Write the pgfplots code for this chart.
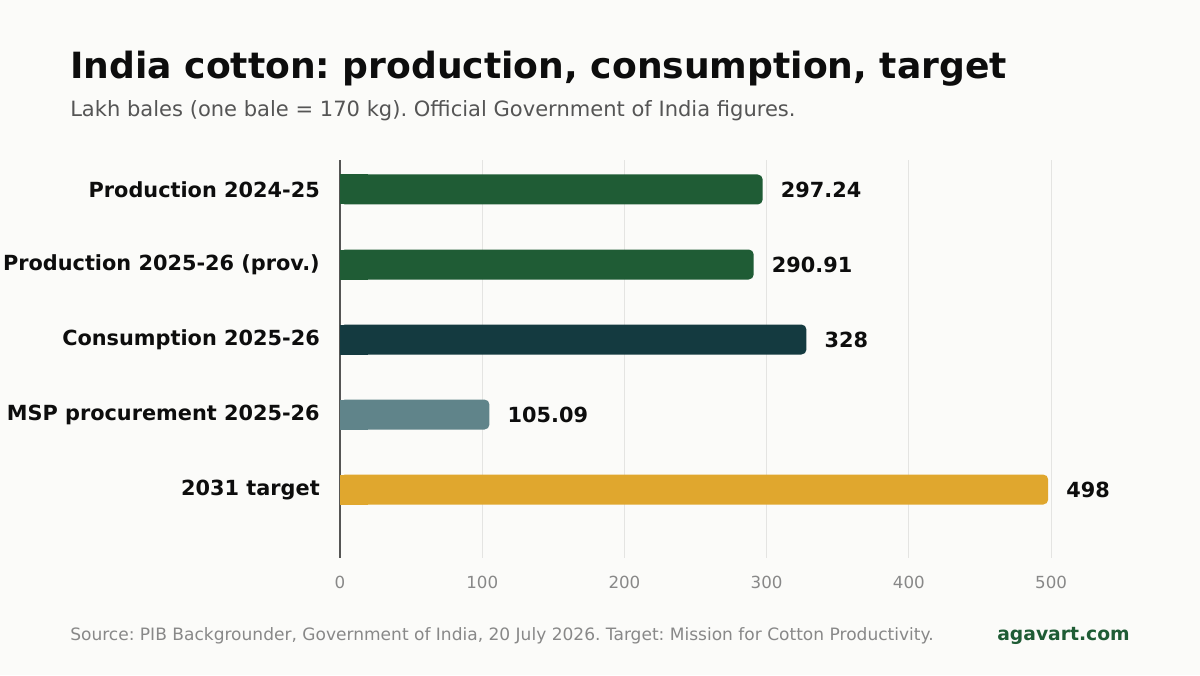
\documentclass[border=0pt]{standalone}
\usepackage{fontspec}
\setmainfont{DejaVu Sans}
\usepackage{pgfplots}
\pgfplotsset{compat=1.18}
\frenchspacing

\definecolor{bg}{HTML}{FBFBF9}
\definecolor{prod}{HTML}{1F5C35}
\definecolor{cons}{HTML}{143A40}
\definecolor{msp}{HTML}{60848A}
\definecolor{target}{HTML}{E0A72E}
\definecolor{ink}{HTML}{0D0D0D}
\definecolor{subgray}{HTML}{555555}
\definecolor{tickgray}{HTML}{888888}
\definecolor{gridgray}{HTML}{E4E4E2}

\newcommand{\fs}[1]{\fontsize{#1}{#1}\selectfont}

% square-ended stub that keeps the bar's left end flat at the axis
\pgfplotsset{stub/.style={fill=#1, rounded corners=0pt, nodes near coords={}, forget plot}}

\begin{document}
\begin{tikzpicture}[x=0.72pt, y=-0.72pt]
  % page background
  \fill[bg] (0,0) rectangle (1200,675);

  % title block
  \node[anchor=base west, inner sep=0, text=ink, font=\bfseries\fs{26}] at (70,78.5)
    {India cotton: production, consumption, target};
  \node[anchor=base west, inner sep=0, text=subgray, font=\fs{15.15}] at (70,116)
    {Lakh bales (one bale = 170 kg). Official Government of India figures.};

  \begin{axis}[
    at={(244.8pt,-401.76pt)}, anchor=south west,
    scale only axis, width=535.5pt, height=286.56pt,
    xbar, bar width=21.6pt, bar shift=0pt,
    y dir=reverse,
    xmin=0, xmax=523,
    ymin=-0.393, ymax=4.913,
    xtick={0,100,...,500},
    ytick={0,1,2,3,4},
    yticklabels={Production 2024-25, Production 2025-26 (prov.), Consumption 2025-26, MSP procurement 2025-26, 2031 target},
    major tick length=0pt,
    xmajorgrids, ymajorgrids=false,
    grid style={draw=gridgray, line width=0.75pt},
    axis lines*=left,
    axis line style={-},
    x axis line style={draw=none},
    y axis line style={draw=subgray, line width=1pt},
    /pgf/number format/assume math mode=true,
    xticklabel style={font=\fs{12}, text=tickgray, anchor=base, inner sep=0, yshift=-21.6pt},
    yticklabel style={font=\bfseries\fs{15}, text=ink, anchor=east, inner sep=0, xshift=-14.4pt},
    point meta=explicit symbolic,
    nodes near coords,
    every node near coord/.style={font=\bfseries\fs{15}, text=ink, anchor=west, inner sep=0, xshift=12.96pt},
    every axis plot/.append style={draw=none, rounded corners=3.6pt},
  ]
    \addplot[fill=prod]   coordinates {(297.24,0) [297.24]};
    \addplot[fill=prod]   coordinates {(290.91,1) [290.91]};
    \addplot[fill=cons]   coordinates {(328,2) [328]};
    \addplot[fill=msp]    coordinates {(105.09,3) [105.09]};
    \addplot[fill=target] coordinates {(498,4) [498]};
    % flat left ends
    \addplot[stub=prod]   coordinates {(20,0) []};
    \addplot[stub=prod]   coordinates {(20,1) []};
    \addplot[stub=cons]   coordinates {(20,2) []};
    \addplot[stub=msp]    coordinates {(20,3) []};
    \addplot[stub=target] coordinates {(20,4) []};
  \end{axis}

  % footer
  \node[anchor=base west, inner sep=0, text=tickgray, font=\fs{12.27}] at (70,640)
    {Source: PIB Backgrounder, Government of India, 20 July 2026. Target: Mission for Cotton Productivity.};
  \node[anchor=base east, inner sep=0, text=prod, font=\bfseries\fs{13.5}] at (1130,640)
    {agavart.com};
\end{tikzpicture}
\end{document}
